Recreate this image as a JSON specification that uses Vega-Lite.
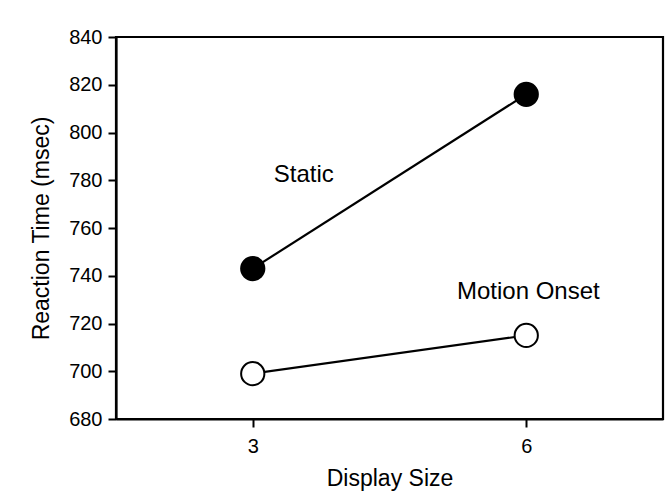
{
  "$schema": "https://vega.github.io/schema/vega-lite/v6.json",
  "width": 547,
  "height": 382,
  "autosize": {"type": "none"},
  "padding": {"left": 116, "top": 37, "right": 7, "bottom": 79},
  "background": "white",
  "config": {
    "view": {"stroke": "black", "strokeWidth": 2.2},
    "font": "Liberation Sans",
    "axis": {
      "grid": false,
      "domainColor": "black",
      "domainWidth": 2.2,
      "tickColor": "black",
      "tickWidth": 2,
      "tickSize": 8,
      "labelFontSize": 20,
      "labelColor": "black",
      "labelFont": "Liberation Sans",
      "titleFont": "Liberation Sans",
      "titleFontSize": 23,
      "titleFontWeight": "normal",
      "titleColor": "black"
    }
  },
  "layer": [
    {
      "data": {
        "values": [
          {"size": 3, "rt": 743, "condition": "Static"},
          {"size": 6, "rt": 816, "condition": "Static"},
          {"size": 3, "rt": 699, "condition": "Motion Onset"},
          {"size": 6, "rt": 715, "condition": "Motion Onset"}
        ]
      },
      "encoding": {
        "x": {
          "field": "size",
          "type": "quantitative",
          "scale": {"domain": [1.5, 7.5], "nice": false, "zero": false},
          "axis": {"title": "Display Size", "values": [3, 6], "format": "d", "labelPadding": 9, "titlePadding": 11}
        },
        "y": {
          "field": "rt",
          "type": "quantitative",
          "scale": {"domain": [680, 840], "nice": false, "zero": false},
          "axis": {"title": "Reaction Time (msec)", "values": [680, 700, 720, 740, 760, 780, 800, 820, 840], "labelPadding": 6, "titlePadding": 15}
        }
      },
      "layer": [
        {
          "mark": {"type": "line", "color": "black", "strokeWidth": 2.2},
          "encoding": {"detail": {"field": "condition"}}
        },
        {
          "mark": {"type": "point", "shape": "circle", "filled": true, "stroke": "black", "strokeWidth": 2, "opacity": 1, "size": 540},
          "encoding": {
            "fill": {
              "field": "condition",
              "type": "nominal",
              "scale": {"domain": ["Static", "Motion Onset"], "range": ["black", "white"]},
              "legend": null
            }
          }
        }
      ]
    },
    {
      "data": {
        "values": [
          {"label": "Static", "x": 3.23, "y": 782},
          {"label": "Motion Onset", "x": 5.24, "y": 733}
        ]
      },
      "mark": {"type": "text", "align": "left", "baseline": "middle", "fontSize": 24, "font": "Liberation Sans", "color": "black"},
      "encoding": {
        "x": {"field": "x", "type": "quantitative"},
        "y": {"field": "y", "type": "quantitative"},
        "text": {"field": "label"}
      }
    }
  ]
}
